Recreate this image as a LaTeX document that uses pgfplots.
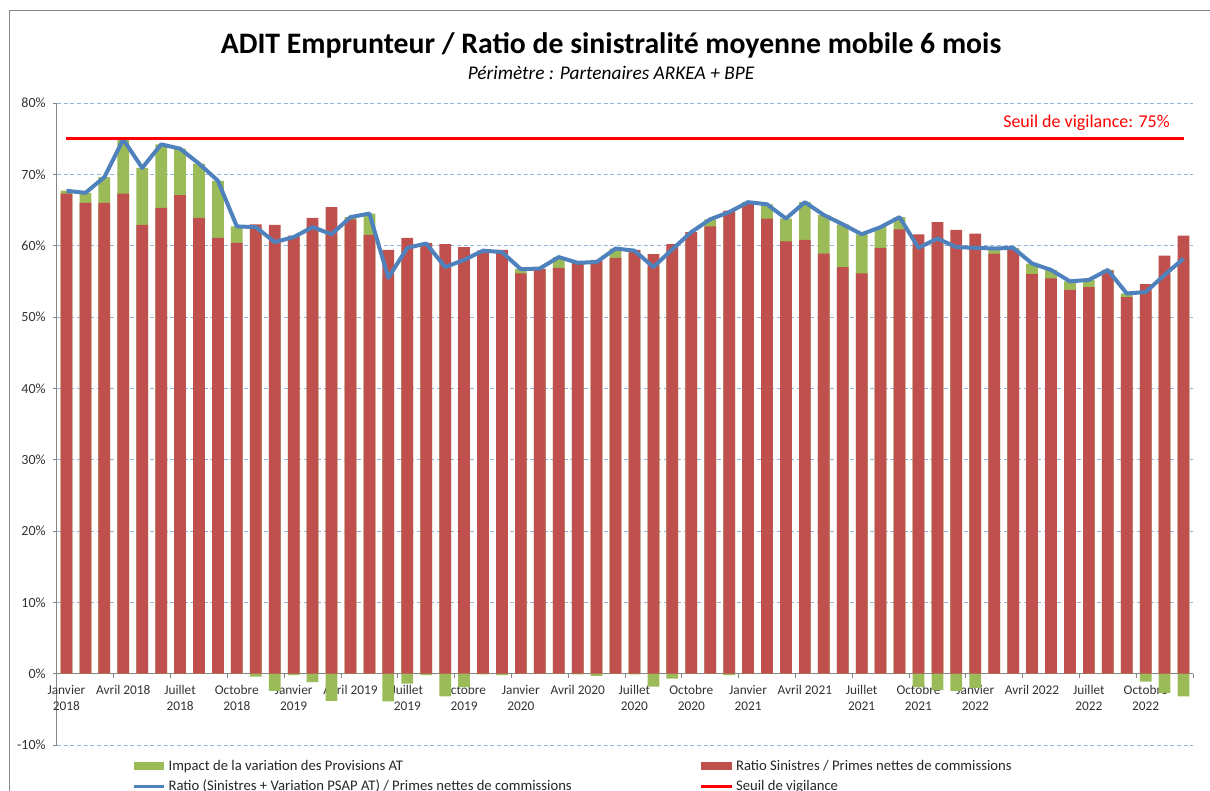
\documentclass[border=0pt]{standalone}
\usepackage{fontspec}
\setmainfont{Carlito}
\usepackage{pgfplots}
\pgfplotsset{compat=1.18}
\usepackage{pgfplotstable}
\definecolor{BarRed}{RGB}{192,80,77}
\definecolor{BarGreen}{RGB}{155,187,89}
\definecolor{LineBlue}{RGB}{79,129,189}
\definecolor{GridBlue}{RGB}{149,179,215}
\definecolor{FrameGray}{RGB}{134,134,134}

% x = month (0 = Janvier 2018), R = ratio sinistres, L = ratio avec variation PSAP, N = impact negatif
\pgfplotstableread{
x R L N
0 67.3 67.7 0
1 66.0 67.4 0
2 66.0 69.6 0
3 67.3 74.9 0
4 62.9 70.9 0
5 65.3 74.2 0
6 67.1 73.6 0
7 63.9 71.5 0
8 61.1 69.1 0
9 60.4 62.7 0
10 63.0 62.6 -0.4
11 62.9 60.5 -2.4
12 61.4 61.2 -0.2
13 63.9 62.6 -1.2
14 65.4 61.6 -3.8
15 63.7 64.0 0
16 61.5 64.5 0
17 59.4 55.5 -3.9
18 61.1 59.7 -1.4
19 60.4 60.3 -0.2
20 60.2 57.0 -3.2
21 59.8 58.0 -1.9
22 59.3 59.3 -0.1
23 59.4 59.1 -0.2
24 56.1 56.7 0
25 56.7 56.8 0
26 56.9 58.4 0
27 57.6 57.6 -0.1
28 58.0 57.7 -0.3
29 58.3 59.6 0
30 59.4 59.3 -0.1
31 58.8 57.0 -1.8
32 60.2 59.5 -0.7
33 61.9 61.9 0
34 62.7 63.7 0
35 64.9 64.7 -0.2
36 65.9 66.1 0
37 63.8 65.8 0
38 60.6 63.8 0
39 60.8 66.1 0
40 58.9 64.3 0
41 57.0 63.0 0
42 56.1 61.6 0
43 59.7 62.6 0
44 62.3 64.0 0
45 61.6 59.7 -1.9
46 63.3 61.0 -2.3
47 62.2 59.8 -2.4
48 61.7 59.7 -2.0
49 58.9 59.6 0
50 59.4 59.7 0
51 56.0 57.5 0
52 55.4 56.6 0
53 53.8 55.0 0
54 54.2 55.2 0
55 56.5 56.6 0
56 52.8 53.3 0
57 54.6 53.5 -1.1
58 58.6 55.9 -2.7
59 61.4 58.2 -3.2
}\ratios

\begin{document}
\begin{tikzpicture}
\path[use as bounding box] (0,0) rectangle (907.5pt,592.5pt);
\draw[FrameGray, line width=0.75pt] (6.75pt,-20pt) rectangle (930pt,584.25pt);

\begin{axis}[
  at={(42.75pt,33.75pt)}, anchor=south west,
  scale only axis, width=852pt, height=481.5pt,
  xmin=-0.5, xmax=59.5, ymin=-10, ymax=80,
  ybar, bar width=0.62, bar shift=0pt,
  axis x line*=middle, axis y line*=left,
  axis line style={draw=FrameGray, line width=0.75pt},
  tick style={draw=FrameGray, line width=0.75pt},
  tick align=outside, major tick length=3pt,
  ytick={-10,0,...,80},
  yticklabels={-10\%,0\%,10\%,20\%,30\%,40\%,50\%,60\%,70\%,80\%},
  yticklabel style={font=\fontsize{10.5}{12}\selectfont, xshift=-2pt},
  xtick={-0.5,2.5,...,59.5}, xticklabels={},
  extra x ticks={0,3,...,57},
  extra x tick labels={{Janvier\\2018},Avril 2018,{Juillet\\2018},{Octobre\\2018},
    {Janvier\\2019},Avril 2019,{Juillet\\2019},{Octobre\\2019},
    {Janvier\\2020},Avril 2020,{Juillet\\2020},{Octobre\\2020},
    {Janvier\\2021},Avril 2021,{Juillet\\2021},{Octobre\\2021},
    {Janvier\\2022},Avril 2022,{Juillet\\2022},{Octobre\\2022}},
  extra x tick style={major tick length=0pt, grid=none},
  tick label style={font=\fontsize{10}{12}\selectfont, text=black!80},
  xticklabel style={align=center, font=\fontsize{10}{12.5}\selectfont, yshift=-5pt},
  ymajorgrids,
  grid style={GridBlue, line width=0.75pt, dash pattern=on 3pt off 2pt},
  legend style={at={(0.066,-0.019)}, anchor=north west, draw=none, fill=none,
    inner sep=0pt, font=\fontsize{11}{13}\selectfont, text=black!85,
    legend columns=2, row sep=1.5pt,
    /tikz/every even column/.append style={column sep=94pt}},
  legend cell align=left,
]
\addplot[fill=BarGreen, draw=none,
  legend image code/.code={\fill[BarGreen] (0pt,-3pt) rectangle (23pt,3pt);}]
  table[x=x, y=L] {\ratios};
\addplot[fill=BarGreen, draw=none, forget plot] table[x=x, y=N] {\ratios};
\addplot[fill=BarRed, draw=none,
  legend image code/.code={\fill[BarRed] (0pt,-3pt) rectangle (23pt,3pt);}]
  table[x=x, y=R] {\ratios};
\addplot[sharp plot, LineBlue, line width=3pt, line join=round,
  legend image code/.code={\draw[LineBlue, line width=2.25pt] (0pt,0pt) -- (23pt,0pt);}]
  table[x=x, y=L] {\ratios};
\addplot[sharp plot, red, line width=2.25pt,
  legend image code/.code={\draw[red, line width=2.25pt] (0pt,0pt) -- (23pt,0pt);}]
  coordinates {(0,75) (59,75)};
\legend{Impact de la variation des Provisions AT,
  Ratio Sinistres / Primes nettes de commissions,
  Ratio (Sinistres + Variation PSAP AT) / Primes nettes de commissions,
  Seuil de vigilance}
\end{axis}

\node at (458.25pt,558.75pt) {\fontsize{22.3}{26}\selectfont\bfseries ADIT Emprunteur / Ratio de sinistralité moyenne mobile 6 mois};
\node at (458.25pt,537.75pt) {\fontsize{14.5}{17}\selectfont\itshape Périmètre : Partenaires ARKEA + BPE};
\node[anchor=east, text=red, inner sep=0pt] at (877.5pt,500.5pt) {\fontsize{13.5}{16}\selectfont Seuil de vigilance: 75\%};
\end{tikzpicture}
\end{document}
